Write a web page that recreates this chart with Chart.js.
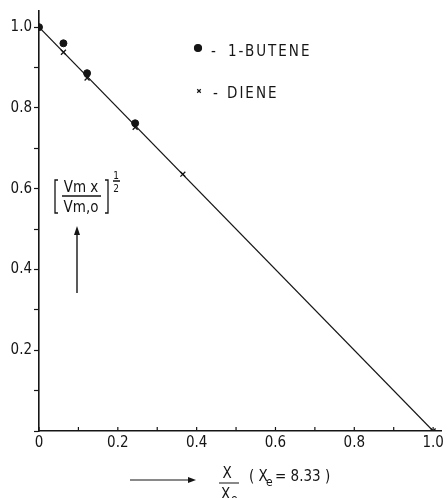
<!DOCTYPE html>
<html>
<head>
<meta charset="utf-8">
<script src="https://cdn.jsdelivr.net/npm/chart.js@4.4.0/dist/chart.umd.min.js"></script>
<style>
  html, body { margin: 0; padding: 0; background: #fff; }
  #wrap { width: 448px; height: 498px; position: relative; }
</style>
</head>
<body>
<div id="wrap"><canvas id="chart" width="448" height="498"></canvas></div>
<script>
// measured points, X / Xe against (Vm,x / Vm,o)^1/2
const buteneX = [0, 0.062, 0.122, 0.244];
const buteneY = [1.0, 0.960, 0.886, 0.762];
const dieneX = [0.062, 0.122, 0.244, 0.365, 1.0];
const dieneY = [0.938, 0.874, 0.752, 0.636, 0.0];

// straight line through both series
const fitX = [0, 1.0];
const fitY = [1.0, 0];

// labelled ticks
const xLabels = [0, 0.2, 0.4, 0.6, 0.8, 1.0];
const yLabels = [0.2, 0.4, 0.6, 0.8, 1.0];

const ink = '#151515';
const face = '"DejaVu Sans Condensed", "DejaVu Sans", sans-serif';

const toPoints = (xs, ys) => xs.map((v, i) => ({ x: v, y: ys[i] }));
const isLabel = (list, v) => list.some(l => Math.abs(l - v) < 1e-6);
const fmt = v => (Math.abs(v) < 1e-6 ? '0' : v.toFixed(1));

// text and arrows that sit on the plot
const annotations = {
  id: 'annotations',
  afterDraw(chart) {
    const ctx = chart.ctx;
    const xs = chart.scales.x, ys = chart.scales.y;
    ctx.save();
    ctx.strokeStyle = ink;
    ctx.fillStyle = ink;

    // x ticks point up into the plot
    ctx.lineWidth = 1.2;
    xs.ticks.forEach(t => {
      const px = xs.getPixelForValue(t.value);
      ctx.beginPath();
      ctx.moveTo(px, ys.bottom);
      ctx.lineTo(px, ys.bottom - 4);
      ctx.stroke();
    });

    // legend
    const H = Chart.helpers;
    H.drawPoint(ctx, { pointStyle: 'circle', radius: 3.5, borderWidth: 1 }, 198, 48);
    H.drawPoint(ctx, { pointStyle: 'crossRot', radius: 2.5, borderWidth: 1.3 }, 199, 91);
    ctx.font = '15px ' + face;
    ctx.textBaseline = 'alphabetic';
    ctx.textAlign = 'left';
    ctx.letterSpacing = '2px';
    ctx.fillText('-', 211, 56);
    ctx.fillText('1-BUTENE', 228, 56);
    ctx.fillText('-', 213, 98);
    ctx.fillText('DIENE', 227, 98);
    ctx.letterSpacing = '0px';

    // y title: [Vm x / Vm,o] ^ 1/2
    ctx.lineWidth = 1.3;
    ctx.beginPath();
    ctx.moveTo(58, 180); ctx.lineTo(55, 180); ctx.lineTo(55, 213); ctx.lineTo(58, 213);
    ctx.moveTo(105, 180); ctx.lineTo(108, 180); ctx.lineTo(108, 213); ctx.lineTo(105, 213);
    ctx.moveTo(62, 196); ctx.lineTo(101, 196);
    ctx.moveTo(113, 181); ctx.lineTo(120, 181);
    ctx.stroke();
    ctx.textAlign = 'center';
    ctx.font = '15px ' + face;
    ctx.fillText('Vm x', 81, 192);
    ctx.fillText('Vm,o', 81, 212);
    ctx.font = '10px ' + face;
    ctx.fillText('1', 116, 179);
    ctx.fillText('2', 116, 192);

    // upward arrow under the y title
    ctx.lineWidth = 1.4;
    ctx.beginPath();
    ctx.moveTo(77, 293); ctx.lineTo(77, 232);
    ctx.stroke();
    ctx.beginPath();
    ctx.moveTo(77, 226); ctx.lineTo(74, 235); ctx.lineTo(80, 235); ctx.closePath();
    ctx.fill();

    // x title: ----> X / Xe ( Xe = 8.33 )
    ctx.lineWidth = 1.2;
    ctx.beginPath();
    ctx.moveTo(130, 480); ctx.lineTo(190, 480);
    ctx.moveTo(219, 483); ctx.lineTo(239, 483);
    ctx.stroke();
    ctx.beginPath();
    ctx.moveTo(196, 480); ctx.lineTo(188, 477); ctx.lineTo(188, 483); ctx.closePath();
    ctx.fill();
    ctx.font = '15px ' + face;
    ctx.textAlign = 'center';
    ctx.fillText('X', 227, 478);
    ctx.textAlign = 'left';
    ctx.fillText('X', 221, 499);
    ctx.fillText('( X', 249, 481);
    ctx.fillText('= 8.33 )', 275, 481);
    ctx.font = '12px ' + face;
    ctx.fillText('e', 231, 503);
    ctx.fillText('e', 266, 486);
    ctx.restore();
  }
};

new Chart(document.getElementById('chart'), {
  type: 'scatter',
  data: {
    datasets: [
      {
        label: 'fit',
        data: toPoints(fitX, fitY),
        showLine: true,
        borderColor: ink,
        borderWidth: 1.2,
        pointRadius: 0
      },
      {
        label: '1-BUTENE',
        data: toPoints(buteneX, buteneY),
        pointStyle: 'circle',
        pointRadius: 3.5,
        backgroundColor: ink,
        borderColor: ink,
        borderWidth: 1
      },
      {
        label: 'DIENE',
        data: toPoints(dieneX, dieneY),
        pointStyle: 'crossRot',
        pointRadius: 3.5,
        backgroundColor: ink,
        borderColor: ink,
        borderWidth: 1.3
      }
    ]
  },
  options: {
    responsive: false,
    animation: false,
    layout: { padding: { top: 10, right: 7, left: 0, bottom: 0 } },
    plugins: { legend: { display: false }, tooltip: { enabled: false } },
    scales: {
      x: {
        type: 'linear',
        min: 0,
        max: 1.02,
        afterFit: s => { s.height = 67; },
        border: { display: true, color: ink, width: 1.6 },
        grid: { display: false, drawTicks: false },
        ticks: {
          stepSize: 0.1,
          includeBounds: false,
          padding: 3,
          autoSkip: false,
          maxRotation: 0,
          color: ink,
          font: { family: face, size: 15 },
          callback: v => (isLabel(xLabels, v) ? fmt(v) : '')
        }
      },
      y: {
        type: 'linear',
        min: 0,
        max: 1.04,
        afterFit: s => { s.width = 39; },
        border: { display: true, color: ink, width: 1.6 },
        grid: { display: true, drawOnChartArea: false, tickLength: 5, tickWidth: 1.2, tickColor: ink },
        ticks: {
          stepSize: 0.1,
          includeBounds: false,
          padding: 2,
          autoSkip: false,
          color: ink,
          font: { family: face, size: 15 },
          callback: v => (isLabel(yLabels, v) ? fmt(v) : '')
        }
      }
    }
  },
  plugins: [annotations]
});
</script>
</body>
</html>
